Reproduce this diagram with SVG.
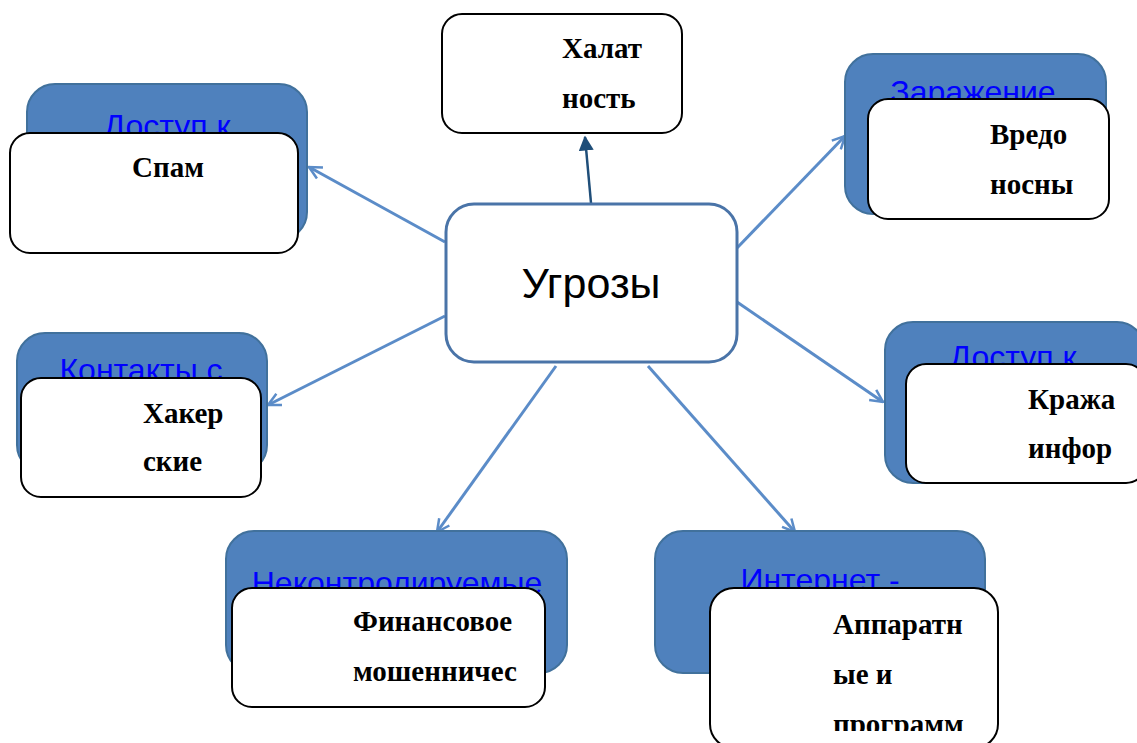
<svg xmlns="http://www.w3.org/2000/svg" width="1137" height="743" viewBox="0 0 1137 743">
<style>
.bb{fill:#4f81bd;stroke:#41719c;stroke-width:2}
.bt{font-family:"Liberation Sans",Arial,sans-serif;font-size:32px;fill:#0000ff;text-anchor:middle}
.wb{fill:#fff;stroke:#000;stroke-width:2}
.wt{font-family:"Liberation Serif","Times New Roman",serif;font-size:29px;font-weight:bold;fill:#000}
.ln{stroke:#5b8cc8;stroke-width:3;fill:none}
</style>
<defs>
<marker id="v" viewBox="0 0 12 12" refX="11" refY="6" markerWidth="5" markerHeight="5" orient="auto" markerUnits="strokeWidth">
<path d="M1,1 L11,6 L1,11" fill="none" stroke="#5b8cc8" stroke-width="2"/>
</marker>
<marker id="t" viewBox="0 0 10 10" refX="9" refY="5" markerWidth="6" markerHeight="6" orient="auto" markerUnits="strokeWidth">
<path d="M0,0 L10,5 L0,10 z" fill="#1f4e79"/>
</marker>
<clipPath id="c6"><rect x="710" y="588" width="290" height="143"/></clipPath>
</defs>
<g id="connectors">
<line class="ln" x1="445" y1="242" x2="309" y2="167" marker-end="url(#v)"/>
<line class="ln" x1="737" y1="248" x2="845" y2="136" marker-end="url(#v)"/>
<line class="ln" x1="445" y1="316" x2="268" y2="405" marker-end="url(#v)"/>
<line class="ln" x1="737" y1="302" x2="883" y2="402" marker-end="url(#v)"/>
<line class="ln" x1="556" y1="366" x2="437" y2="532" marker-end="url(#v)"/>
<line class="ln" x1="648" y1="366" x2="795" y2="532" marker-end="url(#v)"/>
<line x1="591" y1="203" x2="585" y2="137" stroke="#1f4e79" stroke-width="2.5" marker-end="url(#t)"/>
</g>
<g id="center">
<rect x="446" y="204" width="291" height="158" rx="28" fill="#fff" stroke="#4a74a8" stroke-width="3"/>
<text x="591" y="298" font-family="'Liberation Sans',Arial,sans-serif" font-size="43" text-anchor="middle" fill="#000">Угрозы</text>
</g>
<g id="n-top">
<rect class="wb" x="442" y="14" width="240" height="119" rx="20"/>
<text class="wt" x="562" y="58">Халат</text>
<text class="wt" x="562" y="108">ность</text>
</g>
<g id="n-spam">
<rect class="bb" x="27" y="84" width="280" height="156" rx="28"/>
<text class="bt" x="167" y="137">Доступ к</text>
<rect class="wb" x="10" y="133" width="288" height="120" rx="20"/>
<text class="wt" x="168" y="177" text-anchor="middle">Спам</text>
</g>
<g id="n-vredo">
<rect class="bb" x="845" y="54" width="261" height="160" rx="28"/>
<text class="bt" x="973" y="103">Заражение</text>
<rect class="wb" x="868" y="99" width="241" height="120" rx="20"/>
<text class="wt" x="990" y="144">Вредо</text>
<text class="wt" x="990" y="194">носны</text>
</g>
<g id="n-haker">
<rect class="bb" x="17" y="333" width="250" height="140" rx="28"/>
<text class="bt" x="141" y="381">Контакты с</text>
<rect class="wb" x="21" y="378" width="240" height="119" rx="20"/>
<text class="wt" x="143" y="423">Хакер</text>
<text class="wt" x="143" y="471">ские</text>
</g>
<g id="n-krazha">
<rect class="bb" x="885" y="322" width="260" height="161" rx="28"/>
<text class="bt" x="1013" y="368">Доступ к</text>
<rect class="wb" x="906" y="364" width="240" height="119" rx="20"/>
<text class="wt" x="1028" y="409">Кража</text>
<text class="wt" x="1028" y="458">инфор</text>
</g>
<g id="n-fin">
<rect class="bb" x="226" y="531" width="341" height="142" rx="28"/>
<text class="bt" x="397" y="594">Неконтролируемые</text>
<rect class="wb" x="232" y="588" width="313" height="119" rx="20"/>
<text class="wt" x="353" y="631">Финансовое</text>
<text class="wt" x="353" y="681">мошенничес</text>
</g>
<g id="n-app">
<rect class="bb" x="655" y="531" width="330" height="142" rx="28"/>
<text class="bt" x="820" y="591">Интернет -</text>
<rect class="wb" x="710" y="588" width="288" height="160" rx="24"/>
<g clip-path="url(#c6)">
<text class="wt" x="833" y="634">Аппаратн</text>
<text class="wt" x="833" y="684">ые и</text>
<text class="wt" x="833" y="734">программ</text>
</g>
</g>
</svg>
